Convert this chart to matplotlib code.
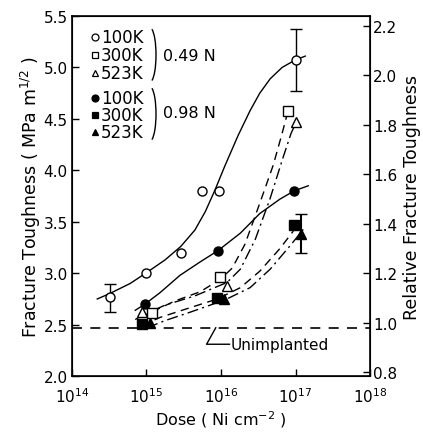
import matplotlib
matplotlib.use("Agg")
import matplotlib.pyplot as plt
from matplotlib.patches import Arc
import numpy as np

plt.rcParams['font.family'] = ['DejaVu Sans']
plt.rcParams['mathtext.fontset'] = 'dejavusans'

# measured points (dose in Ni/cm2, fracture toughness in MPa m^1/2)
dose_o100 = [3.2e14, 1.0e15, 2.9e15, 5.5e15, 9.4e15, 1.0e17]
k_o100 = [2.77, 3.00, 3.20, 3.80, 3.80, 5.07]
dose_o300 = [1.2e15, 9.7e15, 8.0e16]
k_o300 = [2.61, 2.96, 4.58]
dose_o523 = [8.7e14, 1.2e16, 1.0e17]
k_o523 = [2.62, 2.88, 4.47]
dose_f100 = [9.5e14, 9.0e15, 9.5e16]
k_f100 = [2.70, 3.22, 3.80]
dose_f300 = [8.7e14, 8.9e15, 9.4e16]
k_f300 = [2.51, 2.76, 3.47]
dose_f523 = [1.1e15, 1.1e16, 1.2e17]
k_f523 = [2.52, 2.75, 3.38]

# error bars (dose, centre, low, high)
err_o100_dose = [3.2e14, 1.0e17]
err_o100_k = [2.77, 5.07]
err_o100_lo = [2.62, 4.77]
err_o100_hi = [2.90, 5.37]
err_f523_dose = [1.2e17]
err_f523_k = [3.38]
err_f523_lo = [3.20]
err_f523_hi = [3.58]

unimplanted = 2.47

# hand drawn trend lines (log10 dose, toughness)
c_o100_lx = [14.34, 14.50, 14.78, 14.99, 15.25, 15.46, 15.65, 15.79, 15.92,
             16.05, 16.23, 16.39, 16.52, 16.66, 16.82, 16.99, 17.13]
c_o100_k = [2.75, 2.80, 2.90, 3.00, 3.13, 3.26, 3.42, 3.60, 3.81,
            4.04, 4.34, 4.58, 4.75, 4.89, 5.00, 5.07, 5.11]
c_f100_lx = [14.85, 14.98, 15.18, 15.45, 15.72, 15.96, 16.26, 16.52, 16.79, 16.98, 17.17]
c_f100_k = [2.64, 2.70, 2.81, 2.98, 3.11, 3.22, 3.39, 3.58, 3.72, 3.80, 3.85]
c_o300_lx = [14.91, 15.09, 15.38, 15.72, 15.99, 16.15, 16.32, 16.52, 16.70, 16.82, 16.90]
c_o300_k = [2.57, 2.63, 2.73, 2.82, 2.94, 3.05, 3.28, 3.68, 4.05, 4.36, 4.58]
c_o523_lx = [14.85, 14.94, 15.25, 15.65, 16.08, 16.26, 16.46, 16.66, 16.83, 16.94, 17.01]
c_o523_k = [2.55, 2.59, 2.69, 2.78, 2.91, 3.04, 3.33, 3.73, 4.12, 4.36, 4.47]
c_f300_lx = [14.94, 15.18, 15.52, 15.95, 16.26, 16.52, 16.79, 16.97]
c_f300_k = [2.49, 2.57, 2.65, 2.75, 2.86, 3.02, 3.24, 3.41]
c_f523_lx = [15.01, 15.25, 15.58, 16.05, 16.39, 16.66, 16.93, 17.13]
c_f523_k = [2.47, 2.54, 2.62, 2.74, 2.86, 3.04, 3.27, 3.45]

fig = plt.figure(figsize=(4.23, 4.35), dpi=100)
ax = fig.add_axes([0.170, 0.133, 0.705, 0.828])

lw = 1.0
dash = (0, (6, 4))
dashdot = (0, (8, 3, 1.5, 3))
ax.plot(10**np.array(c_o100_lx), c_o100_k, c='black', lw=lw)
ax.plot(10**np.array(c_f100_lx), c_f100_k, c='black', lw=lw)
ax.plot(10**np.array(c_o300_lx), c_o300_k, c='black', lw=lw, ls=dash)
ax.plot(10**np.array(c_o523_lx), c_o523_k, c='black', lw=lw, ls=dashdot)
ax.plot(10**np.array(c_f300_lx), c_f300_k, c='black', lw=lw, ls=dash)
ax.plot(10**np.array(c_f523_lx), c_f523_k, c='black', lw=lw, ls=dashdot)

ax.axhline(unimplanted, c='black', lw=1.2, ls=(0, (6, 5)))

ax.errorbar(err_o100_dose, err_o100_k,
            yerr=[np.subtract(err_o100_k, err_o100_lo), np.subtract(err_o100_hi, err_o100_k)],
            fmt='none', ecolor='black', elinewidth=1.0, capsize=4, capthick=1.0)
ax.errorbar(err_f523_dose, err_f523_k,
            yerr=[np.subtract(err_f523_k, err_f523_lo), np.subtract(err_f523_hi, err_f523_k)],
            fmt='none', ecolor='black', elinewidth=1.5, capsize=4, capthick=1.0)

ms = 6.5
ax.plot(dose_o100, k_o100, 'o', ms=ms, mfc='white', mec='black', mew=1.0)
ax.plot(dose_o300, k_o300, 's', ms=ms, mfc='white', mec='black', mew=1.0)
ax.plot(dose_o523, k_o523, '^', ms=ms + 1, mfc='white', mec='black', mew=1.0)
ax.plot(dose_f100, k_f100, 'o', ms=ms, mfc='black', mec='black')
ax.plot(dose_f300, k_f300, 's', ms=ms, mfc='black', mec='black')
ax.plot(dose_f523, k_f523, '^', ms=ms + 1, mfc='black', mec='black')

# "Unimplanted" note with its pointer
ax.plot([8.5e15, 6.4e15, 1.3e16], [2.47, 2.31, 2.31], c='black', lw=1.0)
ax.text(1.35e16, 2.31, 'Unimplanted', fontsize=11, va='center', ha='left')

# legend drawn by hand
leg_x = 0.077
txt_x = 0.097
rows = [0.942, 0.892, 0.842, 0.772, 0.725, 0.678]
leg_marks = ['o', 's', '^', 'o', 's', '^']
leg_fill = ['white', 'white', 'white', 'black', 'black', 'black']
leg_text = ['100K', '300K', '523K', '100K', '300K', '523K']
for yy, mk, fc, tx in zip(rows, leg_marks, leg_fill, leg_text):
    ax.plot([leg_x], [yy], mk, ms=5, mfc=fc, mec='black', mew=0.9,
            transform=ax.transAxes, clip_on=False)
    ax.text(txt_x, yy, tx, fontsize=12, va='center', ha='left', transform=ax.transAxes)
for yc in [0.892, 0.728]:
    ax.add_patch(Arc((0.262, yc), 0.04, 0.15, theta1=-85, theta2=85,
                     transform=ax.transAxes, color='black', lw=1.0))
ax.text(0.305, 0.889, '0.49 N', fontsize=11.5, va='center', ha='left', transform=ax.transAxes)
ax.text(0.305, 0.733, '0.98 N', fontsize=11.5, va='center', ha='left', transform=ax.transAxes)

ax.set_xscale('log')
ax.set_xlim(1e14, 1e18)
ax.set_ylim(2.0, 5.5)
ax.set_xticks([1e14, 1e15, 1e16, 1e17, 1e18])
ax.xaxis.set_minor_locator(matplotlib.ticker.NullLocator())
ax.set_yticks([2.0, 2.5, 3.0, 3.5, 4.0, 4.5, 5.0, 5.5])
ax.set_yticklabels(['2.0', '2.5', '3.0', '3.5', '4.0', '4.5', '5.0', '5.5'])
ax.tick_params(axis='y', direction='in', length=5, width=1.0, labelsize=11, pad=3)
ax.tick_params(axis='x', direction='in', length=5, width=1.0, labelsize=11, pad=7)
for s in ax.spines.values():
    s.set_linewidth(1.2)
ax.set_xlabel(r'Dose ( Ni cm$^{-2}$ )', fontsize=11.5, labelpad=3)
ax.set_ylabel(r'Fracture Toughness ( MPa m$^{1/2}$ )', fontsize=12.5, labelpad=0)

ax2 = ax.twinx()
ax2.set_ylim(0.784, 2.24)
ax2.set_yticks([0.8, 1.0, 1.2, 1.4, 1.6, 1.8, 2.0, 2.2])
ax2.tick_params(direction='in', length=5, width=1.0, labelsize=11, pad=2)
ax2.set_ylabel('Relative Fracture Toughness', fontsize=12.5, labelpad=4)

plt.savefig('out.png', dpi=100)
